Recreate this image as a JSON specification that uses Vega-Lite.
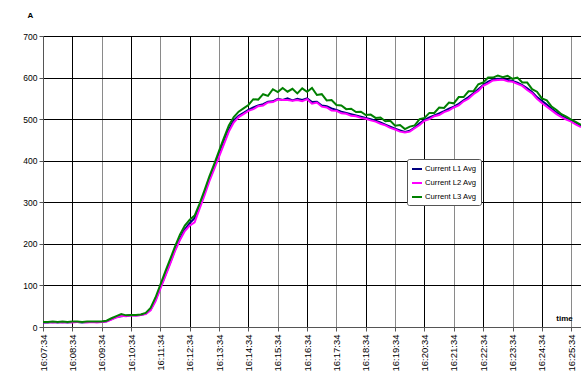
{
  "$schema": "https://vega.github.io/schema/vega-lite/v6.json",
  "width": 538,
  "height": 291,
  "autosize": {"type": "none"},
  "padding": {"left": 43, "top": 36, "right": 0, "bottom": 47},
  "background": "white",
  "config": {
    "view": {"stroke": null},
    "font": "Liberation Sans"
  },
  "data": {
    "format": {"parse": {"t": "utc:'%H:%M:%S'"}},
    "values": [
      {"t": "16:07:34", "L1": 11, "L2": 11, "L3": 12},
      {"t": "16:07:44", "L1": 11, "L2": 12, "L3": 12},
      {"t": "16:07:54", "L1": 12, "L2": 11, "L3": 13},
      {"t": "16:08:04", "L1": 11, "L2": 12, "L3": 12},
      {"t": "16:08:14", "L1": 12, "L2": 11, "L3": 13},
      {"t": "16:08:24", "L1": 11, "L2": 12, "L3": 12},
      {"t": "16:08:34", "L1": 12, "L2": 11, "L3": 13},
      {"t": "16:08:44", "L1": 12, "L2": 12, "L3": 13},
      {"t": "16:08:54", "L1": 11, "L2": 12, "L3": 12},
      {"t": "16:09:04", "L1": 12, "L2": 11, "L3": 13},
      {"t": "16:09:14", "L1": 12, "L2": 12, "L3": 13},
      {"t": "16:09:24", "L1": 12, "L2": 11, "L3": 13},
      {"t": "16:09:34", "L1": 12, "L2": 12, "L3": 13},
      {"t": "16:09:44", "L1": 14, "L2": 13, "L3": 15},
      {"t": "16:09:54", "L1": 19, "L2": 18, "L3": 21},
      {"t": "16:10:04", "L1": 24, "L2": 23, "L3": 26},
      {"t": "16:10:14", "L1": 26, "L2": 27, "L3": 31},
      {"t": "16:10:24", "L1": 27, "L2": 26, "L3": 28},
      {"t": "16:10:34", "L1": 28, "L2": 28, "L3": 29},
      {"t": "16:10:44", "L1": 28, "L2": 27, "L3": 29},
      {"t": "16:10:54", "L1": 29, "L2": 29, "L3": 30},
      {"t": "16:11:04", "L1": 32, "L2": 31, "L3": 34},
      {"t": "16:11:14", "L1": 42, "L2": 40, "L3": 46},
      {"t": "16:11:24", "L1": 65, "L2": 62, "L3": 71},
      {"t": "16:11:34", "L1": 95, "L2": 92, "L3": 102},
      {"t": "16:11:44", "L1": 125, "L2": 122, "L3": 133},
      {"t": "16:11:54", "L1": 155, "L2": 152, "L3": 163},
      {"t": "16:12:04", "L1": 186, "L2": 183, "L3": 194},
      {"t": "16:12:14", "L1": 212, "L2": 209, "L3": 222},
      {"t": "16:12:24", "L1": 235, "L2": 231, "L3": 244},
      {"t": "16:12:34", "L1": 250, "L2": 244, "L3": 258},
      {"t": "16:12:44", "L1": 262, "L2": 252, "L3": 268},
      {"t": "16:12:54", "L1": 290, "L2": 284, "L3": 296},
      {"t": "16:13:04", "L1": 322, "L2": 316, "L3": 328},
      {"t": "16:13:14", "L1": 355, "L2": 350, "L3": 362},
      {"t": "16:13:24", "L1": 385, "L2": 380, "L3": 392},
      {"t": "16:13:34", "L1": 415, "L2": 410, "L3": 424},
      {"t": "16:13:44", "L1": 445, "L2": 440, "L3": 455},
      {"t": "16:13:54", "L1": 475, "L2": 470, "L3": 485},
      {"t": "16:14:04", "L1": 497, "L2": 492, "L3": 505},
      {"t": "16:14:14", "L1": 508, "L2": 505, "L3": 518},
      {"t": "16:14:24", "L1": 515, "L2": 512, "L3": 526},
      {"t": "16:14:34", "L1": 522, "L2": 520, "L3": 534},
      {"t": "16:14:44", "L1": 528, "L2": 524, "L3": 548},
      {"t": "16:14:54", "L1": 533, "L2": 531, "L3": 547},
      {"t": "16:15:04", "L1": 536, "L2": 533, "L3": 560},
      {"t": "16:15:14", "L1": 542, "L2": 540, "L3": 556},
      {"t": "16:15:24", "L1": 543, "L2": 541, "L3": 572},
      {"t": "16:15:34", "L1": 549, "L2": 547, "L3": 565},
      {"t": "16:15:44", "L1": 546, "L2": 546, "L3": 575},
      {"t": "16:15:54", "L1": 550, "L2": 546, "L3": 566},
      {"t": "16:16:04", "L1": 545, "L2": 544, "L3": 573},
      {"t": "16:16:14", "L1": 549, "L2": 546, "L3": 562},
      {"t": "16:16:24", "L1": 546, "L2": 543, "L3": 574},
      {"t": "16:16:34", "L1": 550, "L2": 548, "L3": 566},
      {"t": "16:16:44", "L1": 541, "L2": 537, "L3": 575},
      {"t": "16:16:54", "L1": 542, "L2": 540, "L3": 558},
      {"t": "16:17:04", "L1": 533, "L2": 530, "L3": 560},
      {"t": "16:17:14", "L1": 531, "L2": 528, "L3": 545},
      {"t": "16:17:24", "L1": 526, "L2": 521, "L3": 546},
      {"t": "16:17:34", "L1": 522, "L2": 520, "L3": 534},
      {"t": "16:17:44", "L1": 518, "L2": 514, "L3": 533},
      {"t": "16:17:54", "L1": 515, "L2": 513, "L3": 524},
      {"t": "16:18:04", "L1": 512, "L2": 508, "L3": 525},
      {"t": "16:18:14", "L1": 509, "L2": 507, "L3": 517},
      {"t": "16:18:24", "L1": 506, "L2": 503, "L3": 518},
      {"t": "16:18:34", "L1": 503, "L2": 501, "L3": 510},
      {"t": "16:18:44", "L1": 500, "L2": 497, "L3": 511},
      {"t": "16:18:54", "L1": 496, "L2": 494, "L3": 503},
      {"t": "16:19:04", "L1": 492, "L2": 489, "L3": 504},
      {"t": "16:19:14", "L1": 487, "L2": 485, "L3": 495},
      {"t": "16:19:24", "L1": 482, "L2": 479, "L3": 496},
      {"t": "16:19:34", "L1": 477, "L2": 475, "L3": 484},
      {"t": "16:19:44", "L1": 473, "L2": 470, "L3": 486},
      {"t": "16:19:54", "L1": 469, "L2": 468, "L3": 476},
      {"t": "16:20:04", "L1": 472, "L2": 470, "L3": 482},
      {"t": "16:20:14", "L1": 480, "L2": 478, "L3": 485},
      {"t": "16:20:24", "L1": 490, "L2": 486, "L3": 500},
      {"t": "16:20:34", "L1": 498, "L2": 496, "L3": 503},
      {"t": "16:20:44", "L1": 504, "L2": 500, "L3": 515},
      {"t": "16:20:54", "L1": 509, "L2": 507, "L3": 515},
      {"t": "16:21:04", "L1": 514, "L2": 510, "L3": 528},
      {"t": "16:21:14", "L1": 519, "L2": 517, "L3": 527},
      {"t": "16:21:24", "L1": 525, "L2": 521, "L3": 540},
      {"t": "16:21:34", "L1": 530, "L2": 528, "L3": 538},
      {"t": "16:21:44", "L1": 537, "L2": 533, "L3": 553},
      {"t": "16:21:54", "L1": 545, "L2": 543, "L3": 553},
      {"t": "16:22:04", "L1": 553, "L2": 549, "L3": 567},
      {"t": "16:22:14", "L1": 562, "L2": 560, "L3": 567},
      {"t": "16:22:24", "L1": 572, "L2": 568, "L3": 584},
      {"t": "16:22:34", "L1": 582, "L2": 580, "L3": 588},
      {"t": "16:22:44", "L1": 590, "L2": 586, "L3": 600},
      {"t": "16:22:54", "L1": 595, "L2": 593, "L3": 600},
      {"t": "16:23:04", "L1": 597, "L2": 594, "L3": 605},
      {"t": "16:23:14", "L1": 596, "L2": 595, "L3": 601},
      {"t": "16:23:24", "L1": 594, "L2": 591, "L3": 604},
      {"t": "16:23:34", "L1": 592, "L2": 590, "L3": 597},
      {"t": "16:23:44", "L1": 588, "L2": 585, "L3": 600},
      {"t": "16:23:54", "L1": 582, "L2": 580, "L3": 588},
      {"t": "16:24:04", "L1": 574, "L2": 570, "L3": 588},
      {"t": "16:24:14", "L1": 565, "L2": 562, "L3": 572},
      {"t": "16:24:24", "L1": 553, "L2": 549, "L3": 566},
      {"t": "16:24:34", "L1": 544, "L2": 539, "L3": 550},
      {"t": "16:24:44", "L1": 535, "L2": 530, "L3": 545},
      {"t": "16:24:54", "L1": 525, "L2": 521, "L3": 530},
      {"t": "16:25:04", "L1": 516, "L2": 512, "L3": 522},
      {"t": "16:25:14", "L1": 508, "L2": 505, "L3": 512},
      {"t": "16:25:24", "L1": 502, "L2": 499, "L3": 506},
      {"t": "16:25:34", "L1": 496, "L2": 494, "L3": 499},
      {"t": "16:25:44", "L1": 490, "L2": 487, "L3": 493},
      {"t": "16:25:54", "L1": 484, "L2": 481, "L3": 486}
    ]
  },
  "transform": [
    {"fold": ["L1", "L2", "L3"], "as": ["series", "value"]}
  ],
  "mark": {"type": "line", "strokeWidth": 2, "clip": true},
  "encoding": {
    "x": {
      "field": "t",
      "type": "temporal",
      "scale": {"type": "utc", "nice": false},
      "axis": {
        "title": "time",
        "titleFont": "Liberation Sans",
        "titleFontSize": 8,
        "titleFontWeight": "bold",
        "titleColor": "#000",
        "titleAngle": 0,
        "titleX": 521,
        "titleY": -9,
        "titleAlign": "center",
        "titleBaseline": "middle",
        "format": "%H:%M:%S",
        "values": [
          {"year": 1900, "month": 1, "date": 1, "hours": 16, "minutes": 7, "seconds": 34, "utc": true},
          {"year": 1900, "month": 1, "date": 1, "hours": 16, "minutes": 8, "seconds": 34, "utc": true},
          {"year": 1900, "month": 1, "date": 1, "hours": 16, "minutes": 9, "seconds": 34, "utc": true},
          {"year": 1900, "month": 1, "date": 1, "hours": 16, "minutes": 10, "seconds": 34, "utc": true},
          {"year": 1900, "month": 1, "date": 1, "hours": 16, "minutes": 11, "seconds": 34, "utc": true},
          {"year": 1900, "month": 1, "date": 1, "hours": 16, "minutes": 12, "seconds": 34, "utc": true},
          {"year": 1900, "month": 1, "date": 1, "hours": 16, "minutes": 13, "seconds": 34, "utc": true},
          {"year": 1900, "month": 1, "date": 1, "hours": 16, "minutes": 14, "seconds": 34, "utc": true},
          {"year": 1900, "month": 1, "date": 1, "hours": 16, "minutes": 15, "seconds": 34, "utc": true},
          {"year": 1900, "month": 1, "date": 1, "hours": 16, "minutes": 16, "seconds": 34, "utc": true},
          {"year": 1900, "month": 1, "date": 1, "hours": 16, "minutes": 17, "seconds": 34, "utc": true},
          {"year": 1900, "month": 1, "date": 1, "hours": 16, "minutes": 18, "seconds": 34, "utc": true},
          {"year": 1900, "month": 1, "date": 1, "hours": 16, "minutes": 19, "seconds": 34, "utc": true},
          {"year": 1900, "month": 1, "date": 1, "hours": 16, "minutes": 20, "seconds": 34, "utc": true},
          {"year": 1900, "month": 1, "date": 1, "hours": 16, "minutes": 21, "seconds": 34, "utc": true},
          {"year": 1900, "month": 1, "date": 1, "hours": 16, "minutes": 22, "seconds": 34, "utc": true},
          {"year": 1900, "month": 1, "date": 1, "hours": 16, "minutes": 23, "seconds": 34, "utc": true},
          {"year": 1900, "month": 1, "date": 1, "hours": 16, "minutes": 24, "seconds": 34, "utc": true},
          {"year": 1900, "month": 1, "date": 1, "hours": 16, "minutes": 25, "seconds": 34, "utc": true}
        ],
        "labelAngle": 270,
        "labelAlign": "right",
        "labelBaseline": "middle",
        "labelFont": "Liberation Sans",
        "labelFontSize": 9.5,
        "labelColor": "#000",
        "labelPadding": 3,
        "labelOverlap": false,
        "labelFlush": false,
        "tickColor": "#555",
        "tickSize": 4,
        "domainColor": "#555",
        "grid": true,
        "gridOpacity": 1,
        "gridWidth": 1,
        "gridColor": {"condition": {"test": "utcminutes(datum.value) % 2 == 1", "value": "#8a8a8a"}, "value": "#000000"}
      }
    },
    "y": {
      "field": "value",
      "type": "quantitative",
      "scale": {"domain": [0, 700], "nice": false},
      "axis": {
        "title": "A",
        "titleFont": "Liberation Sans",
        "titleFontSize": 8,
        "titleFontWeight": "bold",
        "titleColor": "#000",
        "titleAngle": 0,
        "titleX": -13,
        "titleY": -21,
        "titleAlign": "center",
        "titleBaseline": "middle",
        "values": [0, 100, 200, 300, 400, 500, 600, 700],
        "labelFont": "Liberation Sans",
        "labelFontSize": 8.5,
        "labelColor": "#000",
        "labelPadding": 2,
        "tickColor": "#555",
        "tickSize": 4,
        "domainColor": "#555",
        "grid": true,
        "gridColor": "#000000",
        "gridOpacity": 1,
        "gridWidth": 1
      }
    },
    "color": {
      "field": "series",
      "type": "nominal",
      "scale": {"domain": ["L1", "L2", "L3"], "range": ["#000080", "#ff00ff", "#008000"]},
      "legend": {
        "title": null,
        "orient": "none",
        "legendX": 364,
        "legendY": 123,
        "labelExpr": "'Current ' + datum.label + ' Avg'",
        "labelFont": "Liberation Sans",
        "labelFontSize": 7.7,
        "labelColor": "#000",
        "labelOffset": 2,
        "symbolType": "stroke",
        "symbolSize": 100,
        "symbolStrokeWidth": 2,
        "rowPadding": 4,
        "padding": 4,
        "strokeColor": "#555",
        "fillColor": "white",
        "cornerRadius": 2
      }
    }
  }
}
